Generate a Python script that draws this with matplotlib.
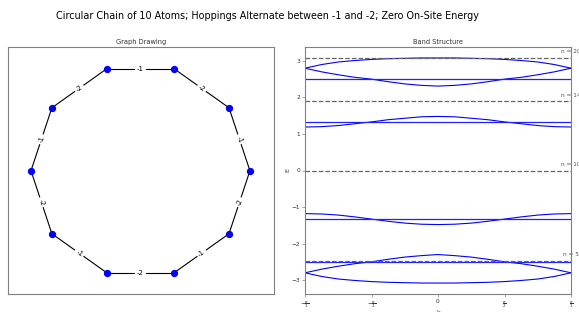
import numpy as np
import matplotlib
matplotlib.use('Agg')
import matplotlib.pyplot as plt

# ring of 10 atoms, hoppings alternate -1 / -2
n_atoms = 10
hoppings = [-1, -2, -1, -2, -1, -2, -1, -2, -1, -2]   # edge (i, i+1)

# band structure (k in units of pi)
k_frac = [-1, -0.875, -0.75, -0.625, -0.5, -0.375, -0.25, -0.125, 0,
          0.125, 0.25, 0.375, 0.5, 0.625, 0.75, 0.875, 1]
band_top = [2.80, 2.90, 2.97, 3.01, 3.04, 3.06, 3.07, 3.08, 3.08,
            3.08, 3.07, 3.06, 3.04, 3.01, 2.97, 2.90, 2.80]
band_top2 = [2.80, 2.70, 2.62, 2.55, 2.50, 2.43, 2.37, 2.33, 2.31,
             2.33, 2.37, 2.43, 2.50, 2.55, 2.62, 2.70, 2.80]
band_mid = [1.19, 1.20, 1.23, 1.28, 1.33, 1.39, 1.43, 1.47, 1.48,
            1.47, 1.43, 1.39, 1.33, 1.28, 1.23, 1.20, 1.19]
band_mid_neg = [-1.18, -1.19, -1.22, -1.27, -1.33, -1.39, -1.44, -1.47, -1.48,
                -1.47, -1.44, -1.39, -1.33, -1.27, -1.22, -1.19, -1.18]
band_low2 = [-2.80, -2.70, -2.62, -2.55, -2.50, -2.43, -2.37, -2.33, -2.30,
             -2.33, -2.37, -2.43, -2.50, -2.55, -2.62, -2.70, -2.80]
band_low = [-2.80, -2.90, -2.97, -3.01, -3.04, -3.06, -3.07, -3.08, -3.08,
            -3.08, -3.07, -3.06, -3.04, -3.01, -2.97, -2.90, -2.80]
flat_levels = [2.50, 1.33, -1.33, -2.50]

# filling levels
fill_n = [5, 10, 14, 20]
fill_E = [-2.48, 0.0, 1.89, 3.08]

grey = '#808080'
W, H = 579, 312

fig = plt.figure(figsize=(W / 100, H / 100), dpi=100)
fig.suptitle('Circular Chain of 10 Atoms; Hoppings Alternate between -1 and -2; Zero On-Site Energy',
             fontsize=6.95, x=267 / W, y=1 - 16 / H, va='center')

# ---- graph drawing
ax = fig.add_axes([8 / W, 1 - 294 / H, 266 / W, 247 / H])
ang = 2 * np.pi * np.arange(n_atoms) / n_atoms
xs, ys = np.cos(ang), np.sin(ang)
for i, t in enumerate(hoppings):
    j = (i + 1) % n_atoms
    ax.plot([xs[i], xs[j]], [ys[i], ys[j]], color='black', lw=0.8, zorder=1)
    rot = np.degrees(np.arctan2(ys[j] - ys[i], xs[j] - xs[i]))
    if rot > 90:
        rot -= 180
    if rot < -90:
        rot += 180
    ax.text((xs[i] + xs[j]) / 2, (ys[i] + ys[j]) / 2, str(t), fontsize=5,
            rotation=rot, ha='center', va='center', rotation_mode='anchor',
            bbox=dict(fc='white', ec='none', pad=1.2), zorder=3)
ax.scatter(xs, ys, s=18, color='blue', zorder=4)
for i in range(n_atoms):
    ax.text(xs[i], ys[i], str(i), fontsize=2.5, color='#202060',
            ha='center', va='center', zorder=5)
ax.set_xlim(-1.21, 1.22)
ax.set_ylim(-1.15, 1.155)
ax.set_xticks([])
ax.set_yticks([])
for s in ax.spines.values():
    s.set_color(grey)
ax.set_title('Graph Drawing', fontsize=4.8, pad=2, color='#333333')

# ---- band structure
bx = fig.add_axes([305 / W, 1 - 294 / H, 266 / W, 247 / H])
k = np.pi * np.array(k_frac)
for b in [band_top, band_top2, band_mid, band_mid_neg, band_low2, band_low]:
    bx.plot(k, b, color='blue', lw=0.8)
for e in flat_levels:
    bx.plot(k, [e] * len(k), color='#2020ff', lw=0.9)
for n, e in zip(fill_n, fill_E):
    bx.axhline(e, color='#666666', ls='--', lw=0.9)
    bx.text(np.pi, e + 0.1, f'n = {n}', fontsize=4.2, color='#555555',
            ha='center', va='bottom', clip_on=False)
bx.set_xlim(-np.pi, np.pi)
bx.set_ylim(-3.38, 3.38)
bx.set_xticks([-np.pi, -np.pi / 2, 0, np.pi / 2, np.pi])
bx.set_xticklabels([r'$-\frac{\pi}{1}$', r'$-\frac{\pi}{2}$', '0',
                    r'$\frac{\pi}{2}$', r'$\frac{\pi}{1}$'])
bx.set_yticks([-3, -2, -1, 0, 1, 2, 3])
bx.tick_params(labelsize=4.2, colors='#333333', length=2, width=0.5, pad=1.5)
bx.tick_params(color=grey)
for s in bx.spines.values():
    s.set_color(grey)
bx.set_xlabel('k', fontsize=4.5, labelpad=0, color='#333333')
bx.set_ylabel('E', fontsize=4.5, labelpad=1, color='#333333')
bx.set_title('Band Structure', fontsize=4.8, pad=2, color='#333333')

fig.savefig('out.png', dpi=100)
